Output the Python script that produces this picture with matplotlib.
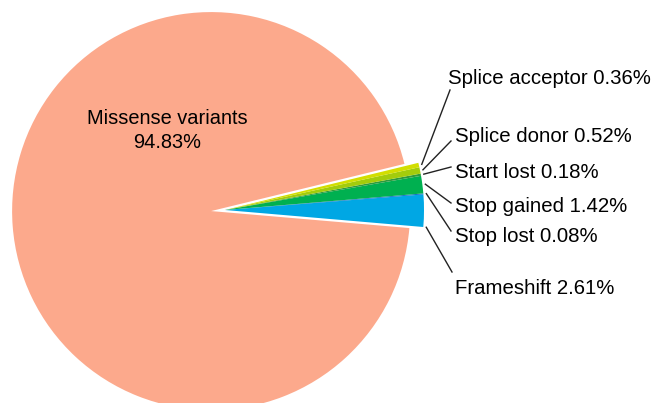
import numpy as np
import matplotlib.pyplot as plt

# variant classes, ordered counter-clockwise from the lower edge of the small group
labels = ['Frameshift', 'Stop lost', 'Stop gained', 'Start lost',
          'Splice donor', 'Splice acceptor', 'Missense variants']
percent = [2.61, 0.08, 1.42, 0.18, 0.52, 0.36, 94.83]
colors = ['#00a7e4', '#0a6cc4', '#00b050', '#2e9a3c',
          '#a3cc0c', '#d2de00', '#fca98c']

W, H = 653, 403
fig = plt.figure(figsize=(W / 100, H / 100), dpi=100)
ax = fig.add_axes([0, 0, 1, 1])

plt.rcParams['font.family'] = ['Liberation Sans', 'DejaVu Sans']

# axes units are pixels; explode is given in the same units
cx, cy, r = 225, H - 210, 199
explode = [0, 0, 0, 0, 0, 0, 0.07 * r]
wedges, _ = ax.pie(percent, colors=colors, startangle=-4.9, counterclock=True,
                   explode=explode, center=(cx, cy), radius=r,
                   wedgeprops=dict(linewidth=0), frame=True)
ax.set_xlim(0, W)
ax.set_ylim(0, H)
ax.set_aspect('equal')
ax.axis('off')

# label for the big slice
ax.text(167, H - 119, 'Missense variants', ha='center', va='center', fontsize=14.4)
ax.text(167, H - 142, '94.83%', ha='center', va='center', fontsize=14.4)

# leader lines and labels for the small slices
text_pos = {'Splice acceptor': (448, 78), 'Splice donor': (455, 137),
            'Start lost': (455, 172), 'Stop gained': (455, 207),
            'Stop lost': (455, 237), 'Frameshift': (455, 288)}
line_end = {'Splice acceptor': (450, 90), 'Splice donor': (451, 141),
            'Start lost': (451, 167), 'Stop gained': (451, 203),
            'Stop lost': (451, 231), 'Frameshift': (452, 272)}
for w, lab, p in zip(wedges[:6], labels[:6], percent[:6]):
    ang = w.theta1 if lab == 'Frameshift' else (w.theta1 + w.theta2) / 2
    a = np.deg2rad(ang)
    x0 = cx + (r + 3) * np.cos(a)
    y0 = cy + (r + 3) * np.sin(a)
    ex, ey = line_end[lab]
    ax.plot([x0, ex], [y0, H - ey], color='#222222', lw=1)
    tx, ty = text_pos[lab]
    ax.text(tx, H - ty, f'{lab} {p:.2f}%', ha='left', va='center', fontsize=14.7)

fig.savefig('out.png', dpi=100)
